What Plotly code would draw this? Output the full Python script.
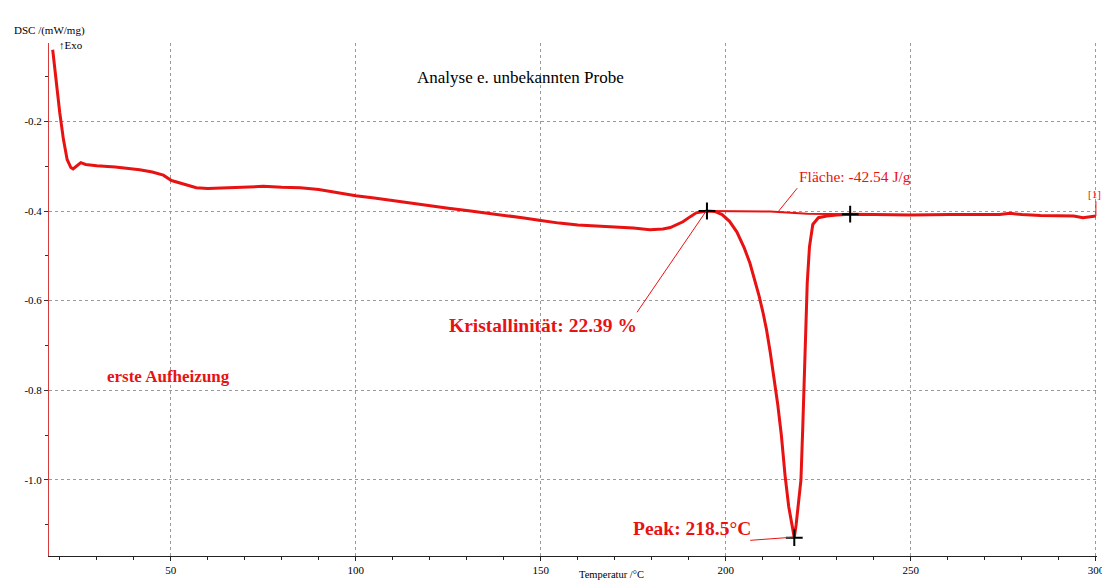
import plotly.graph_objects as go

# DSC curve (Temperatur /°C, DSC /(mW/mg))
temperature = [18.1, 19.0, 20.0, 21.0, 22.0, 23.0, 23.6, 24.5, 25.7, 27.0, 30.0, 35.0, 41.6, 45.0,
               48.0, 50.2, 53.0, 56.9, 60.0, 65.0, 70.0, 75.0, 80.0, 85.0, 90.0, 95.0, 100.0,
               105.0, 110.0, 115.0, 120.0, 125.0, 130.0, 135.0, 140.0, 145.0, 150.0, 155.0,
               160.0, 165.0, 170.0, 175.0, 179.5, 183.0, 185.0, 188.4, 190.5, 192.0, 194.9,
               197.0, 199.0, 201.0, 203.0, 205.0, 206.5, 208.0, 209.0, 210.0, 211.0, 212.0,
               213.0, 214.0, 215.0, 216.0, 217.0, 218.0, 218.5, 219.0, 219.7, 220.3, 220.8,
               221.4, 222.0, 222.6, 223.5, 225.0, 227.3, 230.0, 233.6, 240.0, 250.0, 260.6,
               270.0, 274.0, 276.8, 280.0, 285.0, 290.0, 294.0, 296.5, 298.5, 300.0]
dsc = [-0.040, -0.110, -0.180, -0.240, -0.285, -0.303, -0.306, -0.300, -0.292, -0.296, -0.299,
       -0.302, -0.308, -0.313, -0.320, -0.332, -0.338, -0.348, -0.350, -0.348, -0.346, -0.345,
       -0.347, -0.348, -0.352, -0.359, -0.366, -0.371, -0.377, -0.382, -0.389, -0.394, -0.399,
       -0.404, -0.409, -0.415, -0.421, -0.427, -0.431, -0.433, -0.435, -0.438, -0.442, -0.440,
       -0.437, -0.424, -0.412, -0.404, -0.400, -0.401, -0.408, -0.423, -0.447, -0.483, -0.516,
       -0.560, -0.590, -0.625, -0.665, -0.715, -0.770, -0.830, -0.900, -0.990, -1.060, -1.110,
       -1.129, -1.100, -1.050, -1.000, -0.880, -0.710, -0.560, -0.480, -0.430, -0.415, -0.411,
       -0.409, -0.407, -0.408, -0.409, -0.408, -0.409, -0.408, -0.405, -0.408, -0.410, -0.410,
       -0.411, -0.415, -0.412, -0.411]

# integration baseline
baseline_t = [194.9, 212.0, 222.0, 233.6]
baseline_v = [-0.400, -0.401, -0.406, -0.407]

# marked points (onset, end, peak)
mark_t = [194.9, 233.6, 218.5]
mark_v = [-0.400, -0.407, -1.129]

x_ticks = [50, 100, 150, 200, 250, 300]
y_ticks = [-0.2, -0.4, -0.6, -0.8, -1.0]
y_tick_labels = ["-0.2", "-0.4", "-0.6", "-0.8", "-1.0"]

RED = "rgb(232,18,18)"
SERIF = "Liberation Serif"

W, H = 1102, 587
ml, mr, mt, mb = 49, 5, 43, 31
pw, ph = W - ml - mr, H - mt - mb
def px(xp):
    return (xp - ml) / pw
def py(yp):
    return (H - mb - yp) / ph

fig = go.Figure()
fig.add_trace(go.Scatter(x=baseline_t, y=baseline_v, mode="lines",
                         line=dict(color=RED, width=2), hoverinfo="skip"))
fig.add_trace(go.Scatter(x=temperature, y=dsc, mode="lines",
                         line=dict(color=RED, width=3)))
fig.add_trace(go.Scatter(x=mark_t, y=mark_v, mode="markers",
                         marker=dict(symbol="cross-thin", size=12,
                                     line=dict(color="black", width=2))))

# leader lines
lines = [
    (219.3, -0.349, 214.1, -0.402),
    (176.0, -0.626, 194.7, -0.400),
    (206.6, -1.135, 218.2, -1.128),
]
for x0, y0, x1, y1 in lines:
    fig.add_shape(type="line", x0=x0, y0=y0, x1=x1, y1=y1,
                  line=dict(color=RED, width=1))
fig.add_shape(type="line", x0=300, y0=-0.411, x1=300, y1=-0.378,
              line=dict(color=RED, width=1))

fig.add_annotation(x=px(520), y=py(66), xref="paper", yref="paper",
                   text="Analyse e. unbekannten Probe", showarrow=False,
                   font=dict(family=SERIF, size=17, color="black"))
fig.add_annotation(x=219.3, y=-0.324, text="Fläche: -42.54 J/g", xanchor="left", showarrow=False,
                   font=dict(family=SERIF, size=15.5, color=RED))
fig.add_annotation(x=124.6, y=-0.655, text="<b>Kristallinität: 22.39 %</b>", xanchor="left",
                   showarrow=False, font=dict(family=SERIF, size=19.5, color=RED))
fig.add_annotation(x=174.4, y=-1.108, text="<b>Peak: 218.5°C</b>", xanchor="left",
                   showarrow=False, font=dict(family=SERIF, size=19.5, color=RED))
fig.add_annotation(x=32.2, y=-0.769, text="<b>erste Aufheizung</b>", xanchor="left",
                   showarrow=False, font=dict(family=SERIF, size=17, color=RED))
fig.add_annotation(x=299.6, y=-0.362, text="[1]", xanchor="center", showarrow=False,
                   font=dict(family=SERIF, size=11, color=RED))
fig.add_annotation(x=px(12), y=py(22), xref="paper", yref="paper", xanchor="left",
                   text="DSC /(mW/mg)", showarrow=False,
                   font=dict(family=SERIF, size=11, color="black"))
fig.add_annotation(x=px(57), y=py(37), xref="paper", yref="paper", xanchor="left",
                   text="↑Exo", showarrow=False,
                   font=dict(family=SERIF, size=11, color="black"))
fig.add_annotation(x=px(611), y=py(582), xref="paper", yref="paper", xanchor="center",
                   text="Temperatur /°C", showarrow=False,
                   font=dict(family=SERIF, size=10.5, color="black"))

fig.update_xaxes(range=[17.1, 300.3], tickvals=x_ticks, showgrid=True, automargin=False,
                 gridcolor="#9a9a9a", griddash="3px,3px", gridwidth=1,
                 zeroline=False, showline=True, linecolor="#222", linewidth=1,
                 ticks="outside", ticklen=4, tickcolor="#222", ticklabeloverflow="allow",
                 minor=dict(dtick=10, ticks="outside", ticklen=3, tickcolor="#222", showgrid=False),
                 tickfont=dict(family=SERIF, size=11, color="black"))
fig.update_yaxes(range=[-1.170, -0.025], tickvals=y_ticks, ticktext=y_tick_labels, showgrid=True,
                 automargin=False,
                 gridcolor="#9a9a9a", griddash="3px,3px", gridwidth=1,
                 zeroline=False, showline=True, linecolor="rgb(210,60,60)", linewidth=1,
                 ticks="outside", ticklen=4, tickcolor="#333",
                 minor=dict(dtick=0.1, tick0=0, ticks="outside", ticklen=3, tickcolor="#333", showgrid=False),
                 tickfont=dict(family=SERIF, size=11, color="black"))

fig.update_layout(width=W, height=H, margin=dict(l=ml, r=mr, t=mt, b=mb, autoexpand=False),
                  plot_bgcolor="white", paper_bgcolor="white", showlegend=False)

fig.write_html("out.html")
